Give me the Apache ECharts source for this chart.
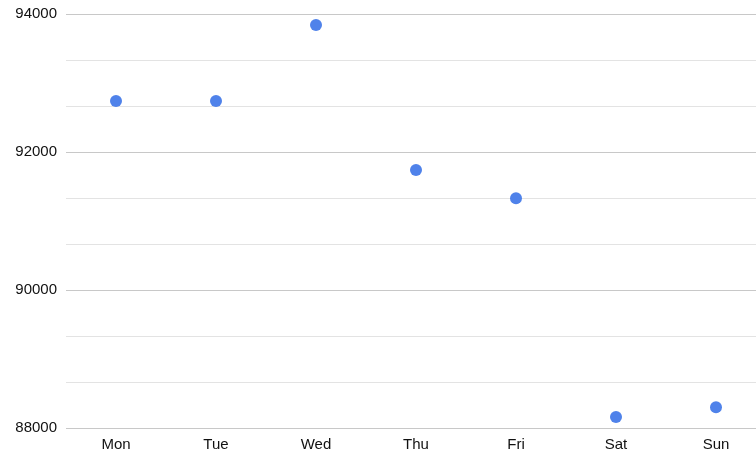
<!DOCTYPE html>
<html>
<head>
<meta charset="utf-8">
<script src="https://cdn.jsdelivr.net/npm/echarts@6/dist/echarts.min.js"></script>
<style>
  html, body { margin: 0; padding: 0; background: #fff; overflow: hidden; }
  /* chart is a bit wider than the window: the last column is cut off like the reference */
  #chartDots { width: 766px; height: 457px; }
</style>
</head>
<body>
<div id="chartDots"></div>
<script>
const days = ["Mon", "Tue", "Wed", "Thu", "Fri", "Sat", "Sun"];
const values = [92740, 92740, 93840, 91740, 91330, 88160, 88300];
const yMin = 88000;
const yMax = 94000;
const yStep = 2000;

const chartDots = echarts.init(document.getElementById("chartDots"));
chartDots.setOption({
  animation: false,
  grid: {left: 66, right: 0, top: 14, bottom: 29},
  xAxis: {
    type: "category",
    data: days,
    axisLine: {show: false},
    axisTick: {show: false},
    axisLabel: {color: "#111", fontSize: 15, fontFamily: "Liberation Sans, Arial, sans-serif", margin: 9}
  },
  yAxis: {
    type: "value",
    min: yMin,
    max: yMax,
    interval: yStep,
    axisLine: {show: false},
    axisTick: {show: false},
    axisLabel: {
      color: "#111",
      fontSize: 15,
      fontFamily: "Liberation Sans, Arial, sans-serif",
      margin: 9,
      formatter: v => String(v)
    },
    splitLine: {lineStyle: {color: "#c8c8c8", width: 1}},
    minorTick: {show: false, splitNumber: 3},
    minorSplitLine: {show: true, lineStyle: {color: "#e3e3e3", width: 1}}
  },
  series: [{
    type: "scatter",
    data: values,
    symbol: "circle",
    symbolSize: 12,
    itemStyle: {color: "#4f82ea", opacity: 1}
  }]
});
</script>
</body>
</html>
